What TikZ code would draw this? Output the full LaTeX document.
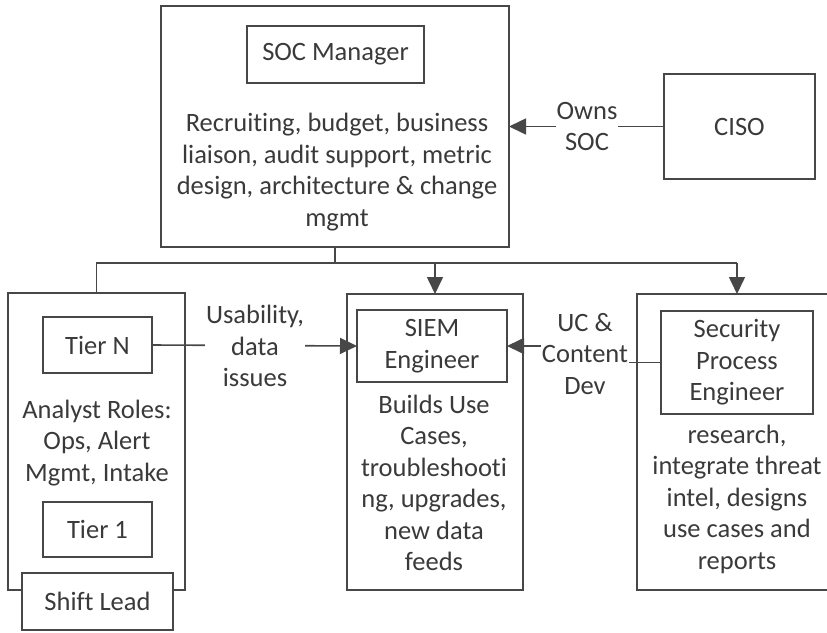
\documentclass[tikz,border=0pt]{standalone}
\usepackage{fontspec}
\setmainfont{Carlito}[Ligatures=NoCommon]
\usetikzlibrary{arrows.meta}
\definecolor{ink}{HTML}{3A3A3A}
\definecolor{edge}{HTML}{474747}
\begin{document}
\begin{tikzpicture}[x=1pt,y=-1pt,
  txt/.style={text=ink,font=\fontsize{26.5}{31.5}\selectfont,align=center,inner sep=0pt},
  box/.style={draw=edge,line width=1.7pt,inner sep=0pt,outer sep=0pt,text=ink,
    font=\fontsize{26.5}{31.5}\selectfont,align=center},
  lbl/.style={txt,fill=white,inner sep=1pt},
  wire/.style={draw=edge,line width=1.6pt},
  arr/.style={wire,-{Triangle[length=17pt,width=16pt]}}]
\useasboundingbox (0,0) rectangle (827,632);

% top
\node[box,minimum width=348,minimum height=241] (socbox) at (335,126.5) {};
\node[box,minimum width=177,minimum height=57] (socmgr) at (335.5,54.5) {SOC Manager};
\node[txt] (soctext) at (337,172) {Recruiting, budget, business\\liaison, audit support, metric\\design, architecture \& change\\mgmt};
\node[box,minimum width=151,minimum height=105] (ciso) at (739.5,126.5) {CISO};
\draw[arr] (ciso.west) -- (socbox.east);
\node[lbl] (owns) at (587,126.5) {Owns\\SOC};

% lower boxes
\node[box,minimum width=177,minimum height=297] (leftbox) at (96.5,441.5) {};
\node[box,minimum width=109,minimum height=56] (tiern) at (97.5,345) {Tier N};
\node[txt] (analyst) at (97,443) {Analyst Roles:\\Ops, Alert\\Mgmt, Intake};
\node[box,minimum width=109,minimum height=55] (tier1) at (97.5,529.5) {Tier 1};
\node[box,fill=white,minimum width=151,minimum height=57] (shift) at (97.5,601.5) {Shift Lead};

\node[box,minimum width=176,minimum height=296] (siembox) at (435,442) {};
\node[box,minimum width=150,minimum height=72] (siem) at (432,346) {SIEM\\Engineer};
\node[txt] (siemtext) at (434,483) {Builds Use\\Cases,\\troubleshooti\\ng, upgrades,\\new data\\feeds};

\node[box,minimum width=192,minimum height=296] (spebox) at (733,442) {};
\node[box,minimum width=152,minimum height=103] (spe) at (737,362.5) {Security\\Process\\Engineer};
\node[txt] (spetext) at (737,499) {research,\\integrate threat\\intel, designs\\use cases and\\reports};

% bus
\coordinate (bus) at (336,263);
\draw[wire] (socbox.south) -- (socbox.south |- bus);
\draw[wire] (leftbox.north) -- (leftbox.north |- bus) -- (spe.north |- bus);
\draw[arr] (siembox.north |- bus) -- (siembox.north);
\draw[arr] (spe.north |- bus) -- (spe.north |- spebox.north);

% side connectors
\draw[arr] (tiern.east) -- (siem.west);
\node[lbl] (usab) at (255,346) {Usability,\\data\\issues};
\draw[arr] (spe.west) -- ++(-60,0) |- (siem.east);
\node[lbl] (uc) at (585,354) {UC \&\\Content\\Dev};
\end{tikzpicture}
\end{document}
